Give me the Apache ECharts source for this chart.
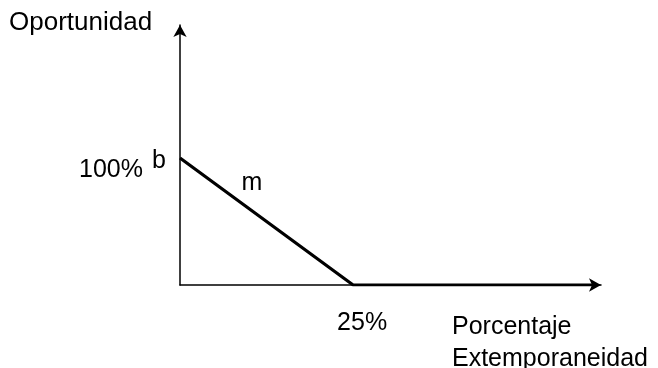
<!DOCTYPE html>
<html>
<head>
<meta charset="utf-8">
<script src="https://cdn.jsdelivr.net/npm/echarts@6/dist/echarts.min.js"></script>
<style>
  html, body { margin: 0; padding: 0; background: #fff; }
  #chart { width: 658px; height: 368px; }
</style>
</head>
<body>
<div id="chart"></div>
<script>
// data
const lineX = [0, 25, 59.5]
const lineY = [100, 0, 0]
const xTickLabels = { 25: '25%' }
const yTickLabels = { 100: '100%' }
const pointLabels = ['b', '', '']
const slopeLabel = { text: 'm', x: 10.4, y: 80 }

const font = 'Liberation Sans, Arial, sans-serif'
const chart = echarts.init(document.getElementById('chart'))

const seriesData = lineX.map((x, i) => {
  const item = { value: [x, lineY[i]] }
  if (pointLabels[i]) {
    item.label = { show: true, formatter: pointLabels[i], position: 'left', distance: 14, offset: [0, 3] }
  }
  return item
})

const option = {
  animation: false,
  grid: { left: 180, right: 57, top: 25, bottom: 83 },
  xAxis: {
    type: 'value',
    min: 0,
    max: 60.8,
    interval: 25,
    splitLine: { show: false },
    axisTick: { show: false },
    axisLine: { lineStyle: { color: '#000', width: 1.5 }, symbol: ['none', 'arrow'], symbolSize: [10, 12] },
    axisLabel: {
      formatter: v => xTickLabels[v] || '',
      color: '#000', fontFamily: font, fontSize: 25,
      margin: 26, verticalAlign: 'top', padding: [0, 0, 0, 18]
    }
  },
  yAxis: {
    type: 'value',
    min: 0,
    max: 204.7,
    interval: 100,
    splitLine: { show: false },
    axisTick: { show: false },
    axisLine: { lineStyle: { color: '#000', width: 1.5 }, symbol: ['none', 'arrow'], symbolSize: [10, 12] },
    axisLabel: {
      formatter: v => yTickLabels[v] || '',
      color: '#000', fontFamily: font, fontSize: 25,
      margin: 37, verticalAlign: 'top'
    }
  },
  series: [{
    type: 'line',
    data: seriesData,
    symbol: 'circle',
    symbolSize: 0,
    showSymbol: true,
    lineStyle: { color: '#000', width: 3.2 },
    itemStyle: { color: '#000' },
    label: { color: '#000', fontFamily: font, fontSize: 25 },
    markPoint: {
      symbol: 'circle',
      symbolSize: 0,
      label: { show: true, formatter: slopeLabel.text, color: '#000', fontFamily: font, fontSize: 25 },
      data: [{ coord: [slopeLabel.x, slopeLabel.y] }]
    }
  }],
  graphic: [
    { type: 'text', left: 9, top: 10, style: { text: 'Oportunidad', fill: '#000', font: '26px ' + font } },
    { type: 'text', left: 452, top: 311, style: { text: 'Porcentaje\nExtemporaneidad', fill: '#000', font: '25px ' + font, lineHeight: 32 } }
  ]
}
chart.setOption(option)
</script>
</body>
</html>
